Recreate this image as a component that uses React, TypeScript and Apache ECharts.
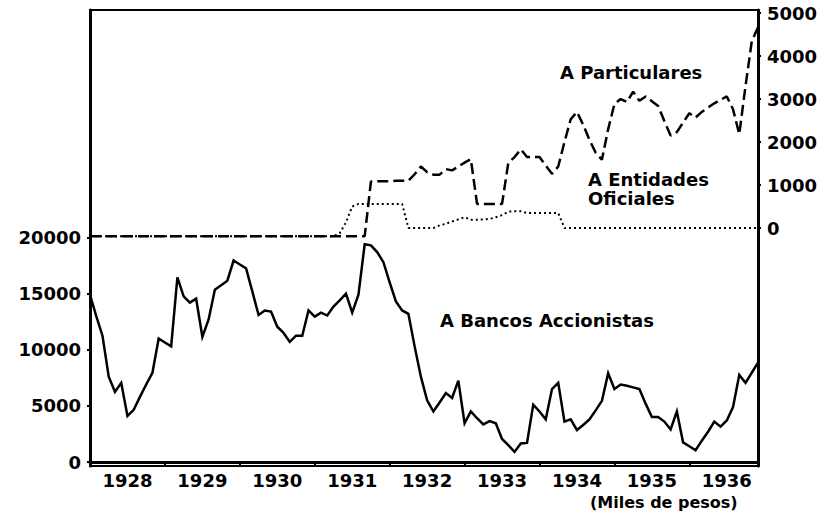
import React, { useEffect, useRef } from "react";
import * as echarts from "echarts";

// Monthly series, Jan 1928 (index 0) .. Dec 1936 (index 107)
const years = ["1928", "1929", "1930", "1931", "1932", "1933", "1934", "1935", "1936"];
const yearStartMonths = [0, 12, 24, 36, 48, 60, 72, 84, 96];
const yearMidMonths = [6, 18, 30, 42, 54, 66, 78, 90, 102];
const leftTicks = [0, 5000, 10000, 15000, 20000];
const rightTicks = [0, 1000, 2000, 3000, 4000, 5000];

// A Bancos Accionistas (left axis)
const bancos = [
  14900, 13000, 11250, 7600, 6250, 7050, 4100, 4650, 5800, 6900, 7950, 11000,
  10650, 10300, 16450, 14750, 14200, 14550, 11150, 12700, 15350, 15750, 16150, 17950,
  17600, 17250, 15200, 13100, 13500, 13400, 12050, 11500, 10700, 11250, 11250, 13500,
  12950, 13300, 13050, 13850, 14400, 15000, 13300, 14900, 19400, 19300, 18700, 17800,
  16000, 14300, 13500, 13200, 10300, 7600, 5500, 4500, 5300, 6150, 5700, 7250,
  3450, 4500, 3900, 3350, 3650, 3450, 2050, 1500, 900, 1650, 1700, 5100,
  4500, 3800, 6500, 7050, 3600, 3800, 2850, 3300, 3800, 4600, 5450, 7900,
  6500, 6900, 6800, 6650, 6500, 5200, 4000, 4000, 3600, 2900, 4500, 1750,
  1400, 1050, 1900, 2700, 3600, 3150, 3700, 4900, 7750, 7050, 7950, 8850,
];

// A Particulares (right axis)
const particulares = [
  -190, -190, -190, -190, -190, -190, -190, -190, -190, -190, -190, -190,
  -190, -190, -190, -190, -190, -190, -190, -190, -190, -190, -190, -190,
  -190, -190, -190, -190, -190, -190, -190, -190, -190, -190, -190, -190,
  -190, -190, -190, -190, -190, -190, -190, -190, -190, 1080, 1090, 1090,
  1090, 1100, 1100, 1100, 1250, 1430, 1300, 1240, 1240, 1370, 1340, 1430,
  1520, 1600, 560, 560, 560, 560, 560, 1510, 1650, 1830, 1650, 1650,
  1650, 1450, 1260, 1430, 2000, 2530, 2700, 2400, 2050, 1750, 1590, 2300,
  2880, 3000, 2930, 3170, 2960, 3060, 2950, 2840, 2490, 2150, 2230, 2450,
  2670, 2570, 2700, 2800, 2900, 2980, 3060, 2760, 2180, 3300, 4340, 4670,
];

// A Entidades Oficiales (right axis)
const oficiales = [
  -190, -190, -190, -190, -190, -190, -190, -190, -190, -190, -190, -190,
  -190, -190, -190, -190, -190, -190, -190, -190, -190, -190, -190, -190,
  -190, -190, -190, -190, -190, -190, -190, -190, -190, -190, -190, -190,
  -190, -190, -190, -190, -120, 130, 500, 560, 560, 560, 560, 560,
  560, 560, 560, 0, 0, 0, 0, 0, 60, 100, 150, 200,
  250, 190, 190, 200, 210, 250, 300, 380, 390, 390, 350, 350,
  350, 350, 350, 350, 0, 0, 0, 0, 0, 0, 0, 0,
  0, 0, 0, 0, 0, 0, 0, 0, 0, 0, 0, 0,
  0, 0, 0, 0, 0, 0, 0, 0, 0, 0, 0, 0,
];

const FONT = "DejaVu Sans";

export default function App() {
  const ref = useRef<HTMLDivElement>(null);
  useEffect(() => {
    if (!ref.current) return;
    const chart = echarts.init(ref.current, undefined, { renderer: "svg" });
    const labelStyle = {
      color: "#000",
      fontFamily: FONT,
      fontWeight: "bold" as const,
      fontSize: 18,
    };
    const option = {
      animation: false,
      backgroundColor: "#fff",
      grid: {
        left: 90,
        top: 10,
        right: 71,
        bottom: 56,
        show: true,
        borderColor: "#000",
        borderWidth: 2,
        backgroundColor: "transparent",
      },
      xAxis: {
        type: "value",
        min: 0,
        max: 107,
        axisLine: { show: true, lineStyle: { color: "#000", width: 3 } },
        axisTick: {
          show: true,
          customValues: yearStartMonths,
          length: 4,
          lineStyle: { color: "#000", width: 2 },
        },
        axisLabel: {
          ...labelStyle,
          customValues: yearMidMonths,
          margin: 5,
          formatter: (v: number) => years[yearMidMonths.indexOf(Math.round(v))] ?? "",
        },
        splitLine: { show: false },
      },
      yAxis: [
        {
          type: "value",
          position: "left",
          min: -356,
          max: 40267,
          axisLine: { show: true, lineStyle: { color: "#000", width: 3 } },
          axisTick: {
            show: true,
            customValues: leftTicks,
            length: 3,
            lineStyle: { color: "#000", width: 2 },
          },
          axisLabel: {
            ...labelStyle,
            customValues: leftTicks,
            margin: 9,
            formatter: (v: number) => String(v),
          },
          splitLine: { show: false },
        },
        {
          type: "value",
          position: "right",
          min: -5535,
          max: 5070,
          axisLine: { show: true, lineStyle: { color: "#000", width: 3 } },
          axisTick: {
            show: true,
            customValues: rightTicks,
            length: 3,
            lineStyle: { color: "#000", width: 2 },
          },
          axisLabel: {
            ...labelStyle,
            customValues: rightTicks,
            margin: 9,
            formatter: (v: number) => String(v),
          },
          splitLine: { show: false },
        },
      ],
      series: [
        {
          name: "A Bancos Accionistas",
          type: "line",
          yAxisIndex: 0,
          data: bancos.map((v, i) => [i, v]),
          symbol: "none",
          lineStyle: { color: "#000", width: 2.5, join: "miter" },
        },
        {
          name: "A Particulares",
          type: "line",
          yAxisIndex: 1,
          data: particulares.map((v, i) => [i, v]),
          symbol: "none",
          lineStyle: { color: "#000", width: 2.5, type: [11, 5] },
        },
        {
          name: "A Entidades Oficiales",
          type: "line",
          yAxisIndex: 1,
          data: oficiales.map((v, i) => [i, v]),
          symbol: "none",
          lineStyle: { color: "#000", width: 2, type: [2, 3] },
        },
      ],
      graphic: [
        { type: "text", left: 560, top: 63, style: { text: "A Particulares", font: `bold 18px ${FONT}`, fill: "#000" } },
        { type: "text", left: 588, top: 170, style: { text: "A Entidades", font: `bold 18px ${FONT}`, fill: "#000" } },
        { type: "text", left: 588, top: 189, style: { text: "Oficiales", font: `bold 18px ${FONT}`, fill: "#000" } },
        { type: "text", left: 440, top: 311, style: { text: "A Bancos Accionistas", font: `bold 18px ${FONT}`, fill: "#000" } },
        { type: "text", left: 590, top: 494, style: { text: "(Miles de pesos)", font: `bold 16px ${FONT}`, fill: "#000" } },
      ],
    };
    chart.setOption(option as any);
    return () => chart.dispose();
  }, []);
  return (
    <div
      ref={ref}
      style={{ position: "absolute", left: 0, top: 0, width: 829, height: 522 }}
    />
  );
}
